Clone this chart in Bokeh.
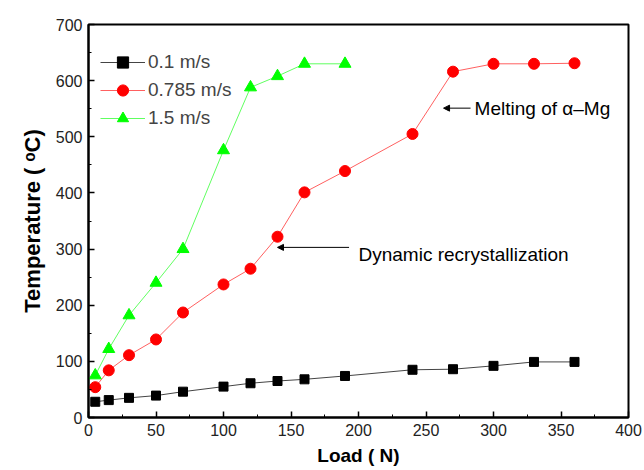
from bokeh.plotting import figure
from bokeh.models import (Range1d, SingleIntervalTicker, Legend, LegendItem,
                          Label, Arrow, NormalHead)
from bokeh.embed import file_html
from bokeh.resources import INLINE

load_a = [5, 15, 30, 50, 70, 100, 120, 140, 160, 190, 240, 270, 300, 330, 360]
temp_01 = [28, 31, 35, 39, 46, 55, 61, 65, 68, 74, 85, 86, 92, 99, 99]
temp_0785 = [54, 84, 111, 139, 187, 237, 265, 322, 401, 439, 505, 616, 630, 630, 631]
load_c = [5, 15, 30, 50, 70, 100, 120, 140, 160, 190]
temp_15 = [75, 122, 182, 240, 300, 476, 588, 608, 630, 630]
series_names = ["0.1 m/s", "0.785 m/s", "1.5 m/s"]

FONT = "Liberation Sans"

p = figure(width=644, height=470, output_backend="svg", toolbar_location=None,
           x_range=Range1d(0, 400), y_range=Range1d(0, 700),
           min_border_left=88, min_border_right=16, min_border_top=24,
           min_border_bottom=53)
p.grid.visible = False
p.outline_line_color = "black"
p.outline_line_width = 2
p.background_fill_color = "white"
p.border_fill_color = "white"

p.xaxis.ticker = SingleIntervalTicker(interval=50, num_minor_ticks=2)
p.yaxis.ticker = SingleIntervalTicker(interval=100, num_minor_ticks=2)
for ax in (p.xaxis, p.yaxis):
    ax.axis_line_width = 2
    ax.major_tick_in = 6
    ax.major_tick_out = 0
    ax.minor_tick_in = 3
    ax.minor_tick_out = 0
    ax.major_tick_line_width = 1.5
    ax.major_label_text_font = FONT
    ax.major_label_text_font_size = "16px"
    ax.major_label_text_color = "#222222"
    ax.axis_label_text_font = FONT
    ax.axis_label_text_font_style = "bold"
    ax.axis_label_text_color = "black"
p.xaxis.axis_label = "Load ( N)"
p.yaxis.axis_label = "Temperature ( ᵒC)"
p.xaxis.axis_label_text_font_size = "19px"
p.yaxis.axis_label_text_font_size = "22px"
p.xaxis.axis_label_standoff = 6
p.yaxis.axis_label_standoff = 8
p.xaxis.major_label_standoff = 6
p.yaxis.major_label_standoff = 6

l1 = p.line(load_a, temp_01, line_color="#444444", line_width=1)
m1 = p.scatter(load_a, temp_01, marker="square", size=9, fill_color="black", line_color="black")
l2 = p.line(load_a, temp_0785, line_color="#ff6060", line_width=1)
m2 = p.scatter(load_a, temp_0785, marker="circle", size=11, fill_color="red", line_color="red")
l3 = p.line(load_c, temp_15, line_color="#60ff60", line_width=1)
m3 = p.scatter(load_c, temp_15, marker="triangle", size=12, fill_color="#00ff00", line_color="#00ff00")

legend = Legend(items=[
    LegendItem(label=series_names[0], renderers=[l1, m1]),
    LegendItem(label=series_names[1], renderers=[l2, m2]),
    LegendItem(label=series_names[2], renderers=[l3, m3]),
], location=(12, 285), padding=0, margin=0, spacing=0,
    glyph_width=45, glyph_height=28, label_height=28,
    label_text_font=FONT, label_text_font_size="19px",
    background_fill_alpha=0, border_line_alpha=0, label_standoff=3)
p.add_layout(legend)

p.add_layout(Arrow(end=NormalHead(size=6, fill_color="black", line_color="black"),
                   x_start=193, y_start=303, x_end=140, y_end=303,
                   line_color="black", line_width=1))
p.add_layout(Label(x=200, y=290, text="Dynamic recrystallization",
                   text_font=FONT, text_font_size="19px", text_baseline="middle",
                   text_color="black"))
p.add_layout(Arrow(end=NormalHead(size=6, fill_color="black", line_color="black"),
                   x_start=283, y_start=551, x_end=263, y_end=551,
                   line_color="black", line_width=1))
p.add_layout(Label(x=286, y=551, text="Melting of α–Mg",
                   text_font=FONT, text_font_size="19px", text_baseline="middle",
                   text_color="black"))

open("out.html", "w").write(file_html(p, INLINE))
